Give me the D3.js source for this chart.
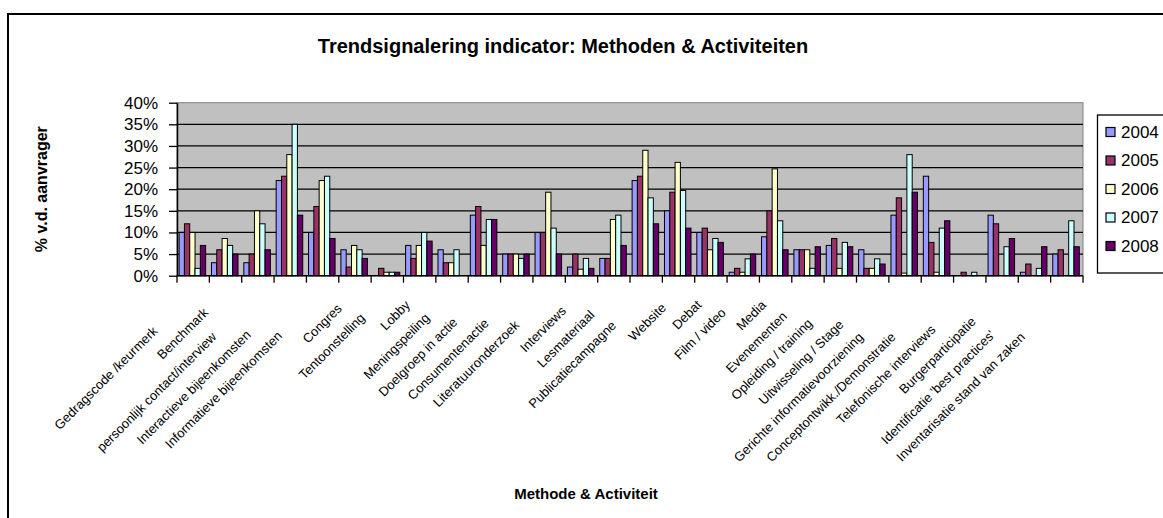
<!DOCTYPE html>
<html>
<head>
<meta charset="utf-8">
<script src="https://cdn.jsdelivr.net/npm/d3@7"></script>
<style>
  body { margin: 0; background: #fff; }
  svg { display: block; font-family: Arial, "Liberation Sans", sans-serif; }
</style>
</head>
<body>
<div id="chart"></div>
<script>
const width = 1163;
const height = 518;

const categories = [
  "Gedragscode /keurmerk", "Benchmark", "persoonlijk contact/interview",
  "Interactieve bijeenkomsten", "Informatieve bijeenkomsten", "Congres",
  "Tentoonstelling", "Lobby", "Meningspeiling", "Doelgroep in actie",
  "Consumentenactie", "Literatuuronderzoek", "Interviews", "Lesmateriaal",
  "Publicatiecampagne", "Website", "Debat", "Film / video", "Media",
  "Evenementen", "Opleiding / training", "Uitwisseling / Stage",
  "Gerichte informatievoorziening", "Conceptontwikk./Demonstratie",
  "Telefonische interviews", "Burgerparticipatie",
  "Identificatie 'best practices'", "Inventarisatie stand van zaken"
];

const years = ["2004", "2005", "2006", "2007", "2008"];

// percentages per category
const v2004 = [10, 3, 3, 22, 10, 6, 0, 7, 6, 14, 5, 10, 2, 4, 22, 15, 10, 0.8, 9, 6, 7, 6, 14, 23, 0, 14, 0.8, 5];
const v2005 = [12, 6, 5, 23, 16, 2, 1.7, 4, 3, 16, 5, 10, 5, 4, 23, 19.3, 11, 1.7, 15, 6, 8.6, 1.7, 18, 7.7, 0.8, 12, 2.7, 6];
const v2006 = [10, 8.6, 15, 28, 22, 7, 0.8, 7, 3, 7, 5, 19.3, 1.5, 13, 29, 26.2, 6, 0.8, 24.7, 6, 1.7, 1.7, 0.6, 0.8, 0, 0, 0, 0];
const v2007 = [1.7, 7, 12, 35, 23, 6, 0.8, 10, 6, 13, 4, 11, 4, 14, 18, 19.7, 8.6, 3.9, 12.7, 1.7, 7.7, 3.9, 28, 11, 0.8, 6.7, 1.7, 12.7];
const v2008 = [7, 5, 6, 14, 8.6, 4, 0.8, 8, 0, 13, 5, 5, 1.7, 7, 12, 11, 7.7, 5, 6, 6.7, 6.7, 2.7, 19.3, 12.7, 0, 8.6, 6.7, 6.7];

const yTicks = [0, 5, 10, 15, 20, 25, 30, 35, 40];
const colors = ["#9999FF", "#993366", "#FFFFCC", "#CCFFFF", "#660066"];

const series = [v2004, v2005, v2006, v2007, v2008];
const rows = categories.map((cat, i) => ({
  cat,
  values: years.map((year, j) => ({ year, value: series[j][i] }))
}));

const plot = { left: 177, right: 1083, top: 102.7, bottom: 275.7 };

const x0 = d3.scaleBand()
  .domain(categories)
  .range([plot.left, plot.right])
  .paddingInner(0.18)
  .paddingOuter(0.09);

const x1 = d3.scaleBand()
  .domain(years)
  .range([0, x0.bandwidth()]);

const y = d3.scaleLinear()
  .domain([0, 40])
  .range([plot.bottom, plot.top]);

const color = d3.scaleOrdinal().domain(years).range(colors);

const svg = d3.select("#chart").append("svg")
  .attr("width", width)
  .attr("height", height);

// chart frame
svg.append("rect")
  .attr("x", 8).attr("y", 14)
  .attr("width", 1200).attr("height", 530)
  .attr("fill", "none")
  .attr("stroke", "#000")
  .attr("stroke-width", 2);

// plot background
svg.append("rect")
  .attr("x", plot.left).attr("y", plot.top)
  .attr("width", plot.right - plot.left)
  .attr("height", plot.bottom - plot.top)
  .attr("fill", "#C0C0C0")
  .attr("stroke", "#808080");

// gridlines
svg.append("g")
  .selectAll("line")
  .data(yTicks.filter(d => d > 0 && d < 40))
  .join("line")
  .attr("x1", plot.left).attr("x2", plot.right)
  .attr("y1", d => y(d)).attr("y2", d => y(d))
  .attr("stroke", "#000")
  .attr("stroke-width", 1.3);

// bars
const groups = svg.append("g")
  .selectAll("g")
  .data(rows)
  .join("g")
  .attr("transform", d => `translate(${x0(d.cat) - 0.8},0)`);

groups.selectAll("rect")
  .data(d => d.values.filter(v => v.value > 0))
  .join("rect")
  .attr("x", d => x1(d.year))
  .attr("y", d => y(d.value))
  .attr("width", x1.bandwidth())
  .attr("height", d => y(0) - y(d.value))
  .attr("fill", d => color(d.year))
  .attr("stroke", "#000")
  .attr("stroke-width", 1);

// y axis
const yAxis = svg.append("g")
  .attr("transform", `translate(${plot.left},0)`)
  .call(d3.axisLeft(y)
    .tickValues(yTicks)
    .tickFormat(d => d + "%")
    .tickSize(8)
    .tickSizeOuter(0)
    .tickPadding(11));
yAxis.select(".domain").attr("stroke", "#000").attr("stroke-width", 1.5);
yAxis.selectAll(".tick line").attr("stroke", "#000").attr("stroke-width", 1.3);
yAxis.selectAll(".tick text")
  .attr("fill", "#000")
  .attr("font-size", 17)
  .attr("font-family", "Arial, 'Liberation Sans', sans-serif");

// x axis line and ticks at category boundaries
const gap = (x0.step() - x0.bandwidth()) / 2;
const bounds = categories.map(c => x0(c) - gap).concat([x0(categories[categories.length - 1]) + x0.bandwidth() + gap]);

svg.append("line")
  .attr("x1", plot.left).attr("x2", plot.right)
  .attr("y1", plot.bottom).attr("y2", plot.bottom)
  .attr("stroke", "#000").attr("stroke-width", 1.5);

svg.append("g")
  .selectAll("line")
  .data(bounds)
  .join("line")
  .attr("x1", d => d).attr("x2", d => d)
  .attr("y1", plot.bottom).attr("y2", plot.bottom + 7)
  .attr("stroke", "#000")
  .attr("stroke-width", 1.3);

// rotated category labels
const labels = svg.append("g")
  .attr("font-size", 13)
  .attr("fill", "#000")
  .selectAll("text")
  .data(categories)
  .join("text")
  .attr("text-anchor", "end")
  .text(d => d);

labels.each(function(d) {
  const w = this.getComputedTextLength();
  const cx = x0(d) + x0.bandwidth() / 2;
  const ay = Math.min(338, 297 + 0.25 * w);
  const ax = cx + 12 - (ay - 285);
  d3.select(this).attr("transform", `translate(${ax},${ay}) rotate(-45)`);
});

// titles
svg.append("text")
  .attr("x", 563).attr("y", 53)
  .attr("text-anchor", "middle")
  .attr("font-size", 20)
  .attr("font-weight", "bold")
  .text("Trendsignalering indicator: Methoden & Activiteiten");

svg.append("text")
  .attr("x", 586).attr("y", 499)
  .attr("text-anchor", "middle")
  .attr("font-size", 15)
  .attr("font-weight", "bold")
  .text("Methode & Activiteit");

svg.append("text")
  .attr("transform", `translate(47,${(plot.top + plot.bottom) / 2}) rotate(-90)`)
  .attr("text-anchor", "middle")
  .attr("font-size", 16)
  .attr("font-weight", "bold")
  .text("% v.d. aanvrager");

// legend
const legend = svg.append("g");
legend.append("rect")
  .attr("x", 1097.5).attr("y", 115)
  .attr("width", 90).attr("height", 158)
  .attr("fill", "#fff")
  .attr("stroke", "#000")
  .attr("stroke-width", 1.3);

const items = legend.selectAll("g")
  .data(years)
  .join("g")
  .attr("transform", (d, i) => `translate(1106,${132 + i * 28.5})`);

items.append("rect")
  .attr("x", 0).attr("y", -4.5)
  .attr("width", 9).attr("height", 9)
  .attr("fill", d => color(d))
  .attr("stroke", "#000")
  .attr("stroke-width", 1.2);

items.append("text")
  .attr("x", 15).attr("y", 0)
  .attr("dy", "0.35em")
  .attr("font-size", 17)
  .text(d => d);
</script>
</body>
</html>
